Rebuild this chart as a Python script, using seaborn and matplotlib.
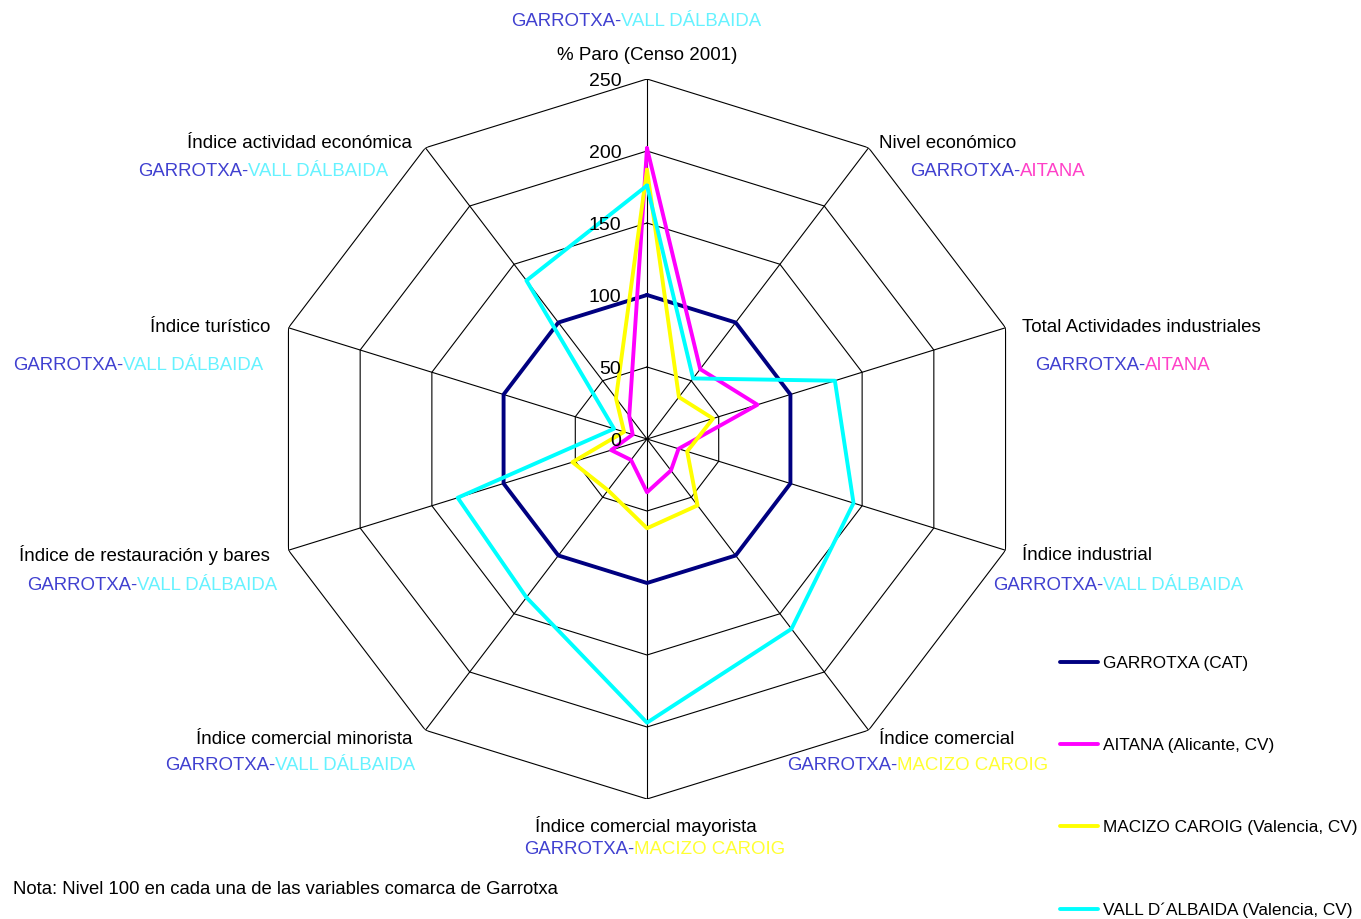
import numpy as np
import pandas as pd
import matplotlib
matplotlib.use('Agg')
import matplotlib.pyplot as plt
import seaborn as sns

# --- datos ---
categorias = ['% Paro (Censo 2001)', 'Nivel económico', 'Total Actividades industriales',
              'Índice industrial', 'Índice comercial', 'Índice comercial mayorista',
              'Índice comercial minorista', 'Índice de restauración y bares',
              'Índice turístico', 'Índice actividad económica']
comparacion = ['VALL DÁLBAIDA', 'AITANA', 'AITANA', 'VALL DÁLBAIDA', 'MACIZO CAROIG',
               'MACIZO CAROIG', 'VALL DÁLBAIDA', 'VALL DÁLBAIDA', 'VALL DÁLBAIDA', 'VALL DÁLBAIDA']
series = ['GARROTXA (CAT)', 'AITANA (Alicante, CV)', 'MACIZO CAROIG (Valencia, CV)',
          'VALL D´ALBAIDA (Valencia, CV)']
garrotxa = [100, 100, 100, 100, 100, 100, 100, 100, 100, 100]
aitana = [202, 60, 77, 22, 27, 37, 18, 25, 10, 20]
macizo = [187, 36, 46, 28, 57, 62, 44, 52, 16, 35]
vall = [176, 52, 131, 144, 163, 197, 136, 132, 23, 136]
ticks = [0, 50, 100, 150, 200, 250]

colores = ['#000080', '#FF00FF', '#FFFF00', '#00FFFF']
color_texto = {'GARROTXA': '#4040D0', 'VALL DÁLBAIDA': '#66F2FF',
               'AITANA': '#FF40C8', 'MACIZO CAROIG': '#FFFF33'}

# --- tabla larga para seaborn (cerrando el poligono) ---
n = len(categorias)
angulos = np.linspace(0, 2 * np.pi, n, endpoint=False)
ang_cerrado = np.append(angulos, 2 * np.pi)
filas = []
for nombre, valores in zip(series, [garrotxa, aitana, macizo, vall]):
    for a, v in zip(ang_cerrado, valores + valores[:1]):
        filas.append({'angulo': a, 'valor': v, 'serie': nombre})
df = pd.DataFrame(filas)

sns.set_style('white')
plt.rcParams['font.family'] = ['Liberation Sans', 'DejaVu Sans']
plt.rcParams['text.color'] = 'black'

W, H = 1361, 919
fig = plt.figure(figsize=(W / 100, H / 100), dpi=100)
cx, cy, rx, ry = 647, 439, 377, 360
ax = fig.add_axes([(cx - rx) / W, 1 - (cy + ry) / H, 2 * rx / W, 2 * ry / H], projection='polar')
ax.set_aspect('auto')
ax.set_theta_zero_location('N')
ax.set_theta_direction(-1)
ax.set_ylim(0, 250)
ax.grid(False)
ax.spines['polar'].set_visible(False)
ax.set_xticks([])
ax.set_yticks([])
ax.patch.set_alpha(0)

# rejilla poligonal y radios
for r in ticks[1:]:
    ax.plot(ang_cerrado, [r] * (n + 1), color='black', lw=0.8, zorder=1)
for a in angulos:
    ax.plot([a, a], [0, 250], color='black', lw=0.8, zorder=1)

sns.lineplot(data=df, x='angulo', y='valor', hue='serie', hue_order=series,
             palette=colores, sort=False, estimator=None, lw=2.8, ax=ax, zorder=3)
ax.set_xlabel('')
ax.set_ylabel('')

for t in ticks:
    ax.annotate(str(t), xy=(0, t), xytext=(-18.5, -1.5), textcoords='offset points',
                ha='right', va='center', fontsize=14, color='black')

# etiquetas de categoria (posiciones en pixeles)
pos_cat = [(647, 56, 'center'), (879, 144, 'left'), (1022, 328, 'left'), (1022, 555, 'left'),
           (879, 739, 'left'), (646, 826, 'center'), (412, 739, 'right'), (270, 555, 'right'),
           (270, 328, 'right'), (412, 144, 'right')]
pos_sub = [(511, 21), (910, 172), (1035, 366), (993, 586), (787, 766), (524, 849),
           (165, 766), (27, 586), (13, 366), (138, 172)]
for cat, comp, (x, y, ha), (sx, sy) in zip(categorias, comparacion, pos_cat, pos_sub):
    fig.text(x / W, 1 - y / H, cat, ha=ha, va='center', fontsize=13.5)
    t1 = fig.text(sx / W, 1 - sy / H, 'GARROTXA-', ha='left', va='center', fontsize=13.4,
                  color=color_texto['GARROTXA'])
    ax.annotate(comp, xy=(1, 0), xycoords=t1, ha='left', va='bottom', fontsize=13.4,
                color=color_texto[comp])

fig.text(13 / W, 1 - 889 / H, 'Nota: Nivel 100 en cada una de las variables comarca de Garrotxa',
         ha='left', va='center', fontsize=13.3)

h, l = ax.get_legend_handles_labels()
ax.legend(h, l, loc='upper left', bbox_to_anchor=(1060 / W, 1 - 656 / H),
          bbox_transform=fig.transFigure, frameon=False, fontsize=12.4,
          handlelength=2.2, handletextpad=0.29, labelspacing=3.9,
          borderpad=0, borderaxespad=0)

fig.savefig('out.png', dpi=100)
